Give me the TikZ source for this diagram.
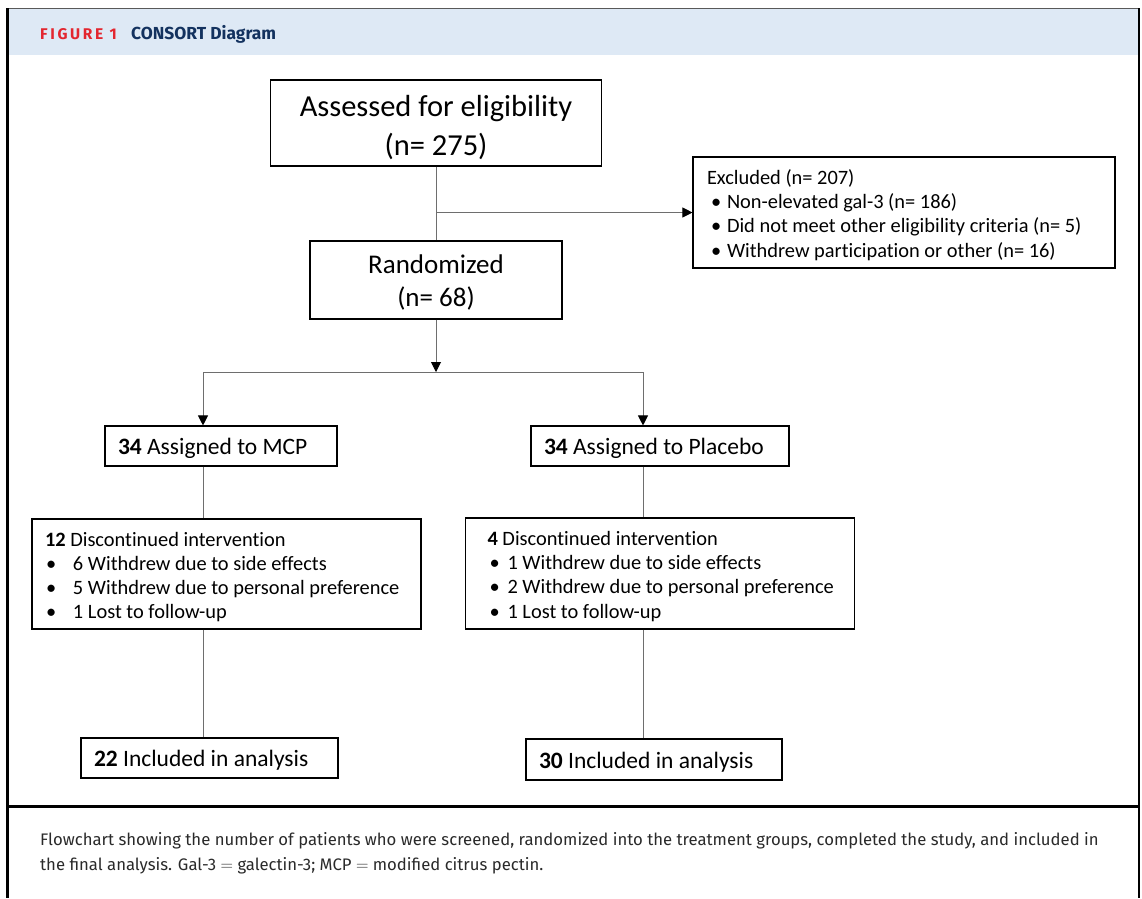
\documentclass[tikz,border=0pt]{standalone}
\usepackage{fontspec}
\setmainfont{Carlito}[Ligatures=NoCommon]
\newfontfamily\capfont{Fira Sans}
\usetikzlibrary{arrows.meta}
\definecolor{hdr}{HTML}{DEE9F5}
\definecolor{figred}{HTML}{E3262F}
\definecolor{figblue}{HTML}{13325F}
\definecolor{conn}{HTML}{6E6E6E}
\definecolor{captxt}{HTML}{2A2A2A}
\newcommand{\blt}[2]{\hspace*{#1}\makebox[#2][l]{•}}
\newcommand{\upstrut}[1]{\rule{0pt}{#1}}
\begin{document}
\begin{tikzpicture}[x=1pt,y=-1pt,
  box/.style={draw=black,line width=1.1pt,inner sep=0pt,anchor=center},
  bigbox/.style={box,align=center,font=\fontsize{30.5}{39}\selectfont},
  midbox/.style={box,align=center,font=\fontsize{27}{33}\selectfont},
  armbox/.style={box,align=flush left,font=\fontsize{23.5}{28}\selectfont},
  listbox/.style={box,align=flush left,font=\fontsize{20.4}{24.2}\selectfont},
  conn/.style={draw=conn,line width=0.9pt},
  arr/.style={conn,-{Triangle[length=10pt,width=10pt,fill=black,color=black]}},
  frameline/.style={line width=2.6pt,black},
  captext/.style={anchor=base west,inner sep=0pt,text=captxt,font={\capfont\fontsize{16.7}{20}\selectfont}}
]
\useasboundingbox (0,0) rectangle (1142,898);
\fill[white] (0,0) rectangle (1142,898);
% header band
\fill[hdr] (8,9) rectangle (1138,55);
\draw[line width=1pt,gray!70!black] (7,8.5) -- (1139,8.5);
\draw[frameline] (7.5,8) -- (7.5,898);
\draw[line width=2pt,black] (1138.5,8) -- (1138.5,898);
\draw[frameline] (6,806.5) -- (1139.5,806.5);
\node[anchor=base west,inner sep=0pt,text=figred,font={\capfont\bfseries\fontsize{15.5}{17}\selectfont\addfontfeature{LetterSpace=17}}] (figlbl) at (40,39) {FIGURE 1};
\node[anchor=base west,inner sep=0pt,text=figblue,font={\capfont\bfseries\fontsize{17.4}{19}\selectfont}] (figttl) at (131,39) {CONSORT Diagram};

% boxes
\node[bigbox,minimum width=331pt,minimum height=86pt] (assess) at (436,123) {\upstrut{31pt}Assessed for eligibility\\(n= 275)};
\node[listbox,minimum width=422pt,minimum height=111pt,text width=400pt] (excl) at (904,212.5)
 {\upstrut{20pt}\hspace*{3pt}Excluded (n= 207)\\
  \blt{7pt}{16pt}Non-elevated gal-3 (n= 186)\\
  \blt{7pt}{16pt}Did not meet other eligibility criteria (n= 5)\\
  \blt{7pt}{16pt}Withdrew participation or other (n= 16)};
\node[midbox,minimum width=252pt,minimum height=78pt] (rand) at (436,280) {\upstrut{24pt}Randomized\\(n= 68)};
\node[armbox,minimum width=232pt,minimum height=40pt,text width=206pt] (mcp) at (221,446) {\upstrut{21.5pt}\textbf{34} Assigned to MCP};
\node[armbox,minimum width=258pt,minimum height=40pt,text width=232pt] (plc) at (660,446) {\upstrut{21.5pt}\textbf{34} Assigned to Placebo};
\node[listbox,minimum width=389pt,minimum height=110pt,text width=369pt] (dmcp) at (226.5,574)
 {\upstrut{20pt}\hspace*{3pt}\textbf{12} Discontinued intervention\\
  \blt{4pt}{27pt}6 Withdrew due to side effects\\
  \blt{4pt}{27pt}5 Withdrew due to personal preference\\
  \blt{4pt}{27pt}1 Lost to follow-up};
\node[listbox,minimum width=389pt,minimum height=111pt,text width=369pt] (dplc) at (660,573.5)
 {\upstrut{20pt}\hspace*{12pt}\textbf{4} Discontinued intervention\\
  \blt{14pt}{18pt}1 Withdrew due to side effects\\
  \blt{14pt}{18pt}2 Withdrew due to personal preference\\
  \blt{14pt}{18pt}1 Lost to follow-up};
\node[armbox,minimum width=257pt,minimum height=40pt,text width=231pt] (imcp) at (209.5,758) {\upstrut{21.5pt}\textbf{22} Included in analysis};
\node[armbox,minimum width=256pt,minimum height=41pt,text width=230pt] (iplc) at (654,759.5) {\upstrut{21.5pt}\textbf{30} Included in analysis};

% connectors
\draw[conn] (assess.south) -- (rand.north);
\draw[arr] (assess.south |- excl.west) -- (excl.west);
\coordinate (split) at (436,372);
\coordinate (L) at (203,372);
\coordinate (R) at (643,372);
\draw[arr] (rand.south) -- (split);
\draw[conn] (L) -- (R);
\draw[arr] (L) -- (L |- mcp.north);
\draw[arr] (R) -- (R |- plc.north);
\draw[conn] (L |- mcp.south) -- (L |- dmcp.north);
\draw[conn] (L |- dmcp.south) -- (L |- imcp.north);
\draw[conn] (R |- plc.south) -- (R |- dplc.north);
\draw[conn] (R |- dplc.south) -- (R |- iplc.north);

% caption
\node[captext] (cap1) at (40,845) {Flowchart showing the number of patients who were screened, randomized into the treatment groups, completed the study, and included in};
\node[captext] (cap2) at (40,870) {the final analysis. Gal-3 $=$ galectin-3; MCP $=$ modified citrus pectin.};
\end{tikzpicture}
\end{document}
